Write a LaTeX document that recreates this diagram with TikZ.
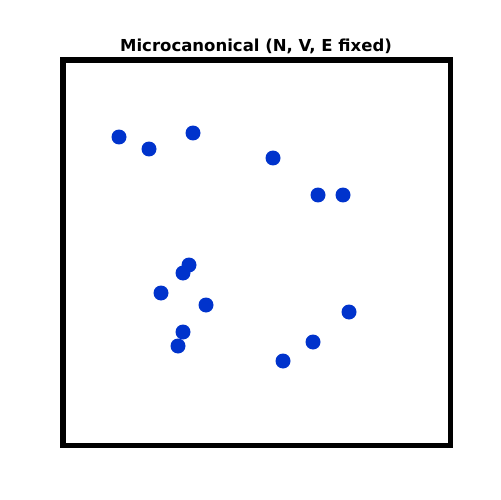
\documentclass[tikz,border=0pt]{standalone}
\usepackage{fontspec}
\setmainfont{DejaVu Sans}
\usepackage{tikz}
\usetikzlibrary{positioning}
\definecolor{DotBlue}{RGB}{0,51,204}
\tikzstyle{Particle}=[circle, fill=DotBlue, draw=none, minimum size=0.3cm, inner sep=0pt]
\tikzstyle{Wall}=[draw=black, line width=2.85pt]

\begin{document}
\begin{tikzpicture}[x=0.02cm, y=-0.02cm]
      \useasboundingbox (0,0) rectangle (500,500);
      \node (title) at (256,46.5) {\fontsize{9.4pt}{11pt}\selectfont\bfseries Microcanonical (N, V, E fixed)};
      \draw[Wall] (63,60) rectangle (450,445);
      \node[Particle] (p1) at (119,137) {};
      \node[Particle] (p2) at (149,149) {};
      \node[Particle] (p3) at (193,133) {};
      \node[Particle] (p4) at (273,158) {};
      \node[Particle] (p5) at (318,195) {};
      \node[Particle] (p6) at (343,195) {};
      \node[Particle] (p7) at (189,265) {};
      \node[Particle] (p8) at (183,273) {};
      \node[Particle] (p9) at (161,293) {};
      \node[Particle] (p10) at (206,305) {};
      \node[Particle] (p11) at (349,312) {};
      \node[Particle] (p12) at (183,332) {};
      \node[Particle] (p13) at (178,346) {};
      \node[Particle] (p14) at (313,342) {};
      \node[Particle] (p15) at (283,361) {};
    \end{tikzpicture}
\end{document}
